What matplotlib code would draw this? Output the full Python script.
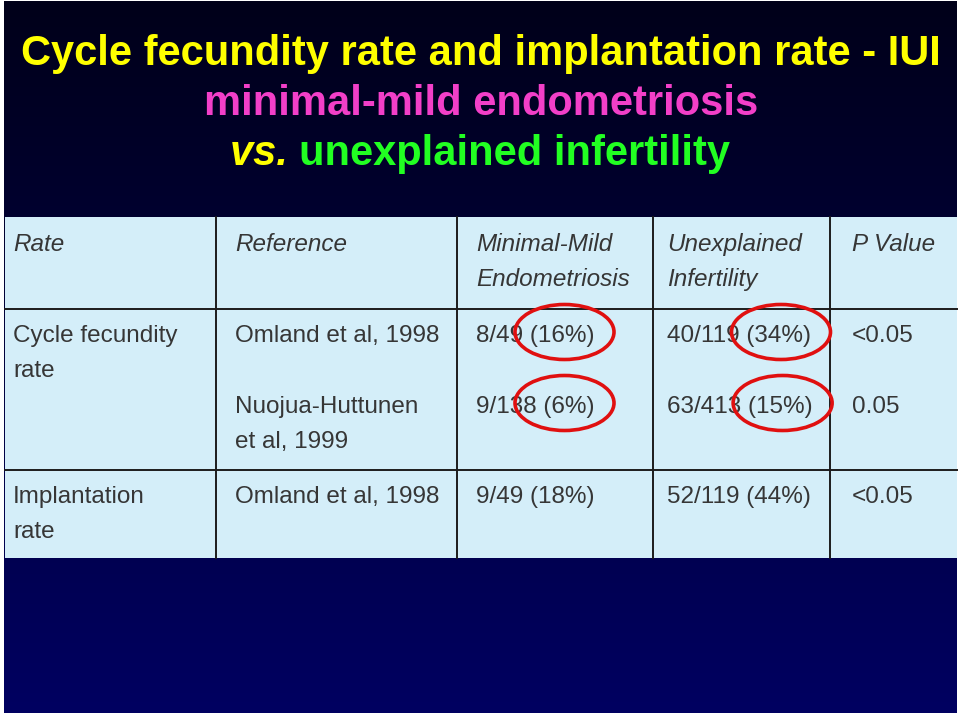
"""
Slajd: Cycle fecundity rate i implantation rate - IUI, tabela z czterema zaznaczonymi wartościami.
"""

import numpy as np
import matplotlib.pyplot as plt
from matplotlib.patches import Rectangle, Ellipse

# Dane tabeli
headers = ["Rate", "Reference", "Minimal-Mild\nEndometriosis", "Unexplained\nInfertility", "P Value"]
rate_labels = ["Cycle fecundity\nrate", "", "Implantation\nrate"]
references = ["Omland et al, 1998", "Nuojua-Huttunen\net al, 1999", "Omland et al, 1998"]
endo_counts = ["8/49", "9/138", "9/49"]
endo_pct = [16, 6, 18]
unexpl_counts = ["40/119", "63/413", "52/119"]
unexpl_pct = [34, 15, 44]
p_values = ["<0.05", "0.05", "<0.05"]
# komórki z czerwonym kółkiem: (wiersz, kolumna)
highlighted = [(0, 2), (1, 2), (0, 3), (1, 3)]

W, H = 960, 716
FONT = ['Liberation Sans', 'DejaVu Sans']
TXT = '#363636'

fig = plt.figure(figsize=(W / 100, H / 100), dpi=100, facecolor='white')
ax = fig.add_axes([0, 0, 1, 1])
ax.set_xlim(0, W)
ax.set_ylim(H, 0)
ax.axis('off')

# Tło slajdu - gradient granatowy
grad = np.linspace(0, 1, 256).reshape(-1, 1)
top = np.array([0.0, 0.0, 0.10])
bot = np.array([0.0, 0.0, 0.38])
img = top + grad[..., None] * (bot - top)
ax.imshow(img, extent=(4, 957, 713, 1), aspect='auto', zorder=0)

# Tytuł
ax.text(481, 65, "Cycle fecundity rate and implantation rate - IUI", ha='center', va='baseline',
        fontsize=30, fontweight='bold', color='#ffff00', family=FONT)
ax.text(481, 115, "minimal-mild endometriosis", ha='center', va='baseline',
        fontsize=30, fontweight='bold', color='#f23fc8', family=FONT)

fig.canvas.draw()
r = fig.canvas.get_renderer()
t_vs = ax.text(0, 165, "vs. ", va='baseline', fontsize=30, fontweight='bold', style='italic',
               color='#ffff00', family=FONT)
t_un = ax.text(0, 165, "unexplained infertility", va='baseline', fontsize=30, fontweight='bold',
               color='#22ff22', family=FONT)
w_vs = t_vs.get_window_extent(r).width
w_un = t_un.get_window_extent(r).width
x0 = 480 - (w_vs + w_un) / 2
t_vs.set_x(x0)
t_un.set_x(x0 + w_vs)

# Tabela
tab_left, tab_right = 5, 957
row_edges = [217, 309, 470, 558]
col_edges = [tab_left, 216, 457, 653, 830, tab_right]
ax.add_patch(Rectangle((tab_left, row_edges[0]), tab_right - tab_left, row_edges[-1] - row_edges[0],
                       facecolor='#d4eef9', edgecolor='none', zorder=1))
for y in row_edges[1:-1]:
    ax.plot([tab_left, tab_right], [y, y], color='#1c1c1c', lw=1.4, zorder=2)
for x in col_edges[1:-1]:
    ax.plot([x, x], [row_edges[0], row_edges[-1]], color='#1c1c1c', lw=1.4, zorder=2)

col_x = [13, 235, 476, 667, 852]
fs = 17.5
line_h = 35


def cell_text(x, y, s, **kw):
    # każda linia osobno, żeby pierwsza linia trzymała się linii bazowej
    for k, line in enumerate(s.split('\n')):
        ax.text(x, y + k * line_h, line, va='baseline', fontsize=fs, color=TXT, family=FONT,
                zorder=3, **kw)


for x, h in zip(col_x, headers):
    cell_text(x, 251, h, style='italic')

row_base = [342, 413, 503]
cells = []
for i in range(3):
    row = [rate_labels[i], references[i],
           f"{endo_counts[i]} ({endo_pct[i]}%)",
           f"{unexpl_counts[i]} ({unexpl_pct[i]}%)",
           p_values[i]]
    cells.append(row)
    for x, s in zip(col_x, row):
        if s:
            cell_text(x, row_base[i], s)

# Czerwone kółka wokół procentów (zaczepione przy prawym końcu tekstu)
fig.canvas.draw()
inv = ax.transData.inverted()
for i, j in highlighted:
    full = ax.text(col_x[j], row_base[i], cells[i][j], va='baseline', fontsize=fs, family=FONT, alpha=0)
    bf = full.get_window_extent(r)
    cx = inv.transform((bf.x1, 0))[0] - 30
    ax.add_patch(Ellipse((cx, row_base[i] - 10), 99, 55, facecolor='none', edgecolor='#e01010',
                         lw=2.6, zorder=4))

fig.savefig('out.png', dpi=100, facecolor='white')
